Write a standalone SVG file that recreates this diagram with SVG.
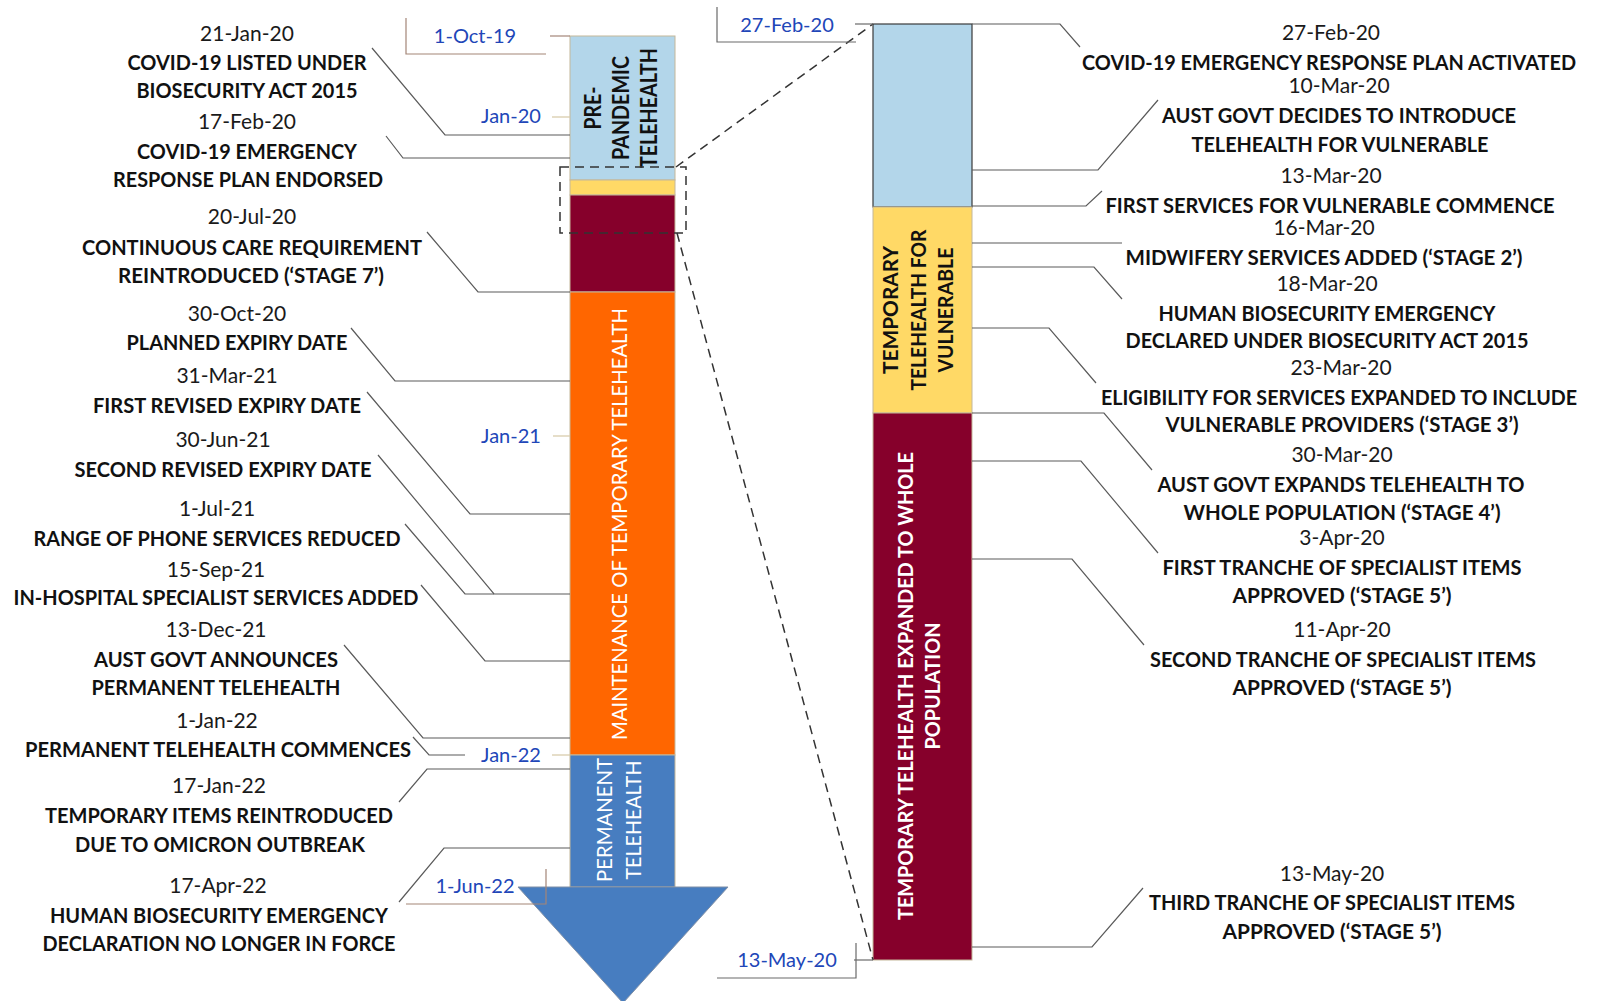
<svg xmlns="http://www.w3.org/2000/svg" width="1597" height="1001" viewBox="0 0 1597 1001">
  <style>
    text { font-family: Lato, "Open Sans", "Liberation Sans", sans-serif; }
    .date { font-size: 21px; fill: #1a1a1a; text-anchor: middle; }
    .ev { font-size: 21px; font-weight: bold; fill: #111; text-anchor: middle; }
    .axis { font-size: 20px; fill: #2146b8; text-anchor: middle; }
    .barlbl { font-size: 22px; font-weight: bold; fill: #111; text-anchor: middle; }
    .barlbl-w { font-size: 21px; fill: #ffffff; text-anchor: middle; }
    .barlbl-wb { font-size: 21px; font-weight: bold; fill: #ffffff; text-anchor: middle; }
    .lead { fill: none; stroke: #5a5a5a; stroke-width: 1.2; }
    .tick { fill: none; stroke: #d8ccac; stroke-width: 1.3; }
    .brk { fill: none; stroke: #a38577; stroke-width: 1.2; }
    .brk2 { fill: none; stroke: #6a6a6a; stroke-width: 1.2; }
    .dash { fill: none; stroke: #333; stroke-width: 1.5; stroke-dasharray: 9 6; }
    .seg { stroke: #c4b79a; stroke-width: 1; }
  </style>

  <!-- main timeline bar -->
  <g id="main-bar">
    <rect id="pre-pandemic" class="seg" x="570" y="36" width="105" height="144" fill="#b3d6ea"/>
    <rect id="vulnerable-small" class="seg" x="570" y="180" width="105" height="15" fill="#ffd966"/>
    <rect id="whole-pop-small" class="seg" x="570" y="195" width="105" height="97" fill="#86002b"/>
    <rect id="maintenance" class="seg" x="570" y="292" width="105" height="463" fill="#ff6600"/>
    <rect id="permanent" class="seg" x="570" y="755" width="105" height="132" fill="#477dc0"/>
    <polygon id="arrow-head" points="518,887 728,887 623,1003" fill="#477dc0" stroke="#7f8fa6" stroke-width="1"/>
    <text class="barlbl" transform="translate(601,108) rotate(-90)" textLength="43" lengthAdjust="spacingAndGlyphs">PRE-</text>
    <text class="barlbl" transform="translate(629,108) rotate(-90)" textLength="104" lengthAdjust="spacingAndGlyphs">PANDEMIC</text>
    <text class="barlbl" transform="translate(657,108) rotate(-90)" textLength="120" lengthAdjust="spacingAndGlyphs">TELEHEALTH</text>
    <text class="barlbl-w" transform="translate(627,524) rotate(-90)" textLength="432" lengthAdjust="spacingAndGlyphs">MAINTENANCE OF TEMPORARY TELEHEALTH</text>
    <text class="barlbl-w" transform="translate(612,820) rotate(-90)" textLength="124" lengthAdjust="spacingAndGlyphs">PERMANENT</text>
    <text class="barlbl-w" transform="translate(641,820) rotate(-90)" textLength="119" lengthAdjust="spacingAndGlyphs">TELEHEALTH</text>
  </g>

  <!-- enlarged detail bar -->
  <g id="detail-bar">
    <rect x="873" y="24" width="99" height="183" fill="#b3d6ea" stroke="#3a3a3a" stroke-width="1.2"/>
    <rect class="seg" x="873" y="207" width="99" height="206" fill="#ffd966"/>
    <rect class="seg" x="873" y="413" width="99" height="547" fill="#86002b"/>
    <text class="barlbl" style="font-size:20px" transform="translate(898,310) rotate(-90)" textLength="128" lengthAdjust="spacingAndGlyphs">TEMPORARY</text>
    <text class="barlbl" style="font-size:20px" transform="translate(926,310) rotate(-90)" textLength="161" lengthAdjust="spacingAndGlyphs">TELEHEALTH FOR</text>
    <text class="barlbl" style="font-size:20px" transform="translate(953,310) rotate(-90)" textLength="125" lengthAdjust="spacingAndGlyphs">VULNERABLE</text>
    <text class="barlbl-wb" transform="translate(913,686) rotate(-90)" textLength="468" lengthAdjust="spacingAndGlyphs">TEMPORARY TELEHEALTH EXPANDED TO WHOLE</text>
    <text class="barlbl-wb" transform="translate(940,686) rotate(-90)" textLength="127" lengthAdjust="spacingAndGlyphs">POPULATION</text>
  </g>

  <!-- connectors -->
  <g id="connectors">
    <!-- zoom box and projection lines -->
    <rect class="dash" x="560" y="167" width="126" height="66"/>
    <line class="dash" x1="676" y1="167" x2="873" y2="24"/>
    <line class="dash" x1="677" y1="233" x2="873" y2="960"/>

    <!-- axis ticks and brackets, main bar -->
    <polyline class="brk" points="406,18 406,54 546,54"/>
    <line class="brk" x1="550" y1="36" x2="570" y2="36"/>
    <line class="tick" x1="552" y1="117" x2="570" y2="117"/>
    <line class="tick" x1="553" y1="436" x2="570" y2="436"/>
    <line class="tick" x1="552" y1="755" x2="570" y2="755"/>
    <polyline class="brk" points="546,869 546,904 406,904"/>

    <!-- axis ticks and brackets, detail bar -->
    <polyline class="brk2" points="717,7 717,42 856,42"/>
    <line class="brk2" x1="855" y1="24" x2="873" y2="24"/>
    <polyline class="brk2" points="856,943 856,978 717,978"/>
    <line class="brk2" x1="854" y1="960" x2="873" y2="960"/>

    <!-- leaders, main bar -->
    <polyline class="lead" points="372,48 445,135 570,135"/>
    <polyline class="lead" points="386,136 403,158 570,158"/>
    <polyline class="lead" points="427,232 478,292 570,292"/>
    <polyline class="lead" points="351,328 395,381 570,381"/>
    <polyline class="lead" points="367,392 470,514 570,514"/>
    <polyline class="lead" points="378,455 494,594 570,594"/>
    <polyline class="lead" points="405,524 465,594 494,594"/>
    <polyline class="lead" points="421,585 485,661 570,661"/>
    <polyline class="lead" points="344,645 423,738 570,738"/>
    <polyline class="lead" points="413,737 429,755 465,755"/>
    <polyline class="lead" points="399,802 427,769 570,769"/>
    <polyline class="lead" points="399,902 444,848 570,848"/>

    <!-- leaders, detail bar -->
    <polyline class="lead" points="972,24 1060,24 1080,47"/>
    <polyline class="lead" points="972,170 1098,170 1158,100"/>
    <polyline class="lead" points="972,206 1086,206 1102,191"/>
    <polyline class="lead" points="972,243 1122,243"/>
    <polyline class="lead" points="972,267 1094,267 1122,299"/>
    <polyline class="lead" points="972,328 1049,328 1096,383"/>
    <polyline class="lead" points="972,413 1104,413 1152,470"/>
    <polyline class="lead" points="972,461 1081,461 1158,553"/>
    <polyline class="lead" points="972,559 1072,559 1144,645"/>
    <polyline class="lead" points="972,947 1092,947 1143,888"/>
  </g>

  <!-- axis labels -->
  <g id="axis-labels">
    <text class="axis" x="475" y="43">1-Oct-19</text>
    <text class="axis" x="511" y="123">Jan-20</text>
    <text class="axis" x="511" y="443">Jan-21</text>
    <text class="axis" x="511" y="762">Jan-22</text>
    <text class="axis" x="475" y="893">1-Jun-22</text>
    <text class="axis" x="787" y="32">27-Feb-20</text>
    <text class="axis" x="787" y="967">13-May-20</text>
  </g>

  <!-- events along the main bar -->
  <g id="ev-21jan20">
    <text class="date" x="247" y="41">21-Jan-20</text>
    <text class="ev" x="247" y="70" textLength="239" lengthAdjust="spacingAndGlyphs">COVID-19 LISTED UNDER</text>
    <text class="ev" x="247" y="98" textLength="221" lengthAdjust="spacingAndGlyphs">BIOSECURITY ACT 2015</text>
  </g>
  <g id="ev-17feb20">
    <text class="date" x="247" y="129">17-Feb-20</text>
    <text class="ev" x="247" y="159" textLength="220" lengthAdjust="spacingAndGlyphs">COVID-19 EMERGENCY</text>
    <text class="ev" x="248" y="187" textLength="270" lengthAdjust="spacingAndGlyphs">RESPONSE PLAN ENDORSED</text>
  </g>
  <g id="ev-20jul20">
    <text class="date" x="252" y="224">20-Jul-20</text>
    <text class="ev" x="252" y="255" textLength="340" lengthAdjust="spacingAndGlyphs">CONTINUOUS CARE REQUIREMENT</text>
    <text class="ev" x="251" y="283" textLength="266" lengthAdjust="spacingAndGlyphs">REINTRODUCED (‘STAGE 7’)</text>
  </g>
  <g id="ev-30oct20">
    <text class="date" x="237" y="321">30-Oct-20</text>
    <text class="ev" x="237" y="350" textLength="221" lengthAdjust="spacingAndGlyphs">PLANNED EXPIRY DATE</text>
  </g>
  <g id="ev-31mar21">
    <text class="date" x="227" y="383">31-Mar-21</text>
    <text class="ev" x="227" y="413" textLength="268" lengthAdjust="spacingAndGlyphs">FIRST REVISED EXPIRY DATE</text>
  </g>
  <g id="ev-30jun21">
    <text class="date" x="223" y="447">30-Jun-21</text>
    <text class="ev" x="223" y="477" textLength="297" lengthAdjust="spacingAndGlyphs">SECOND REVISED EXPIRY DATE</text>
  </g>
  <g id="ev-1jul21">
    <text class="date" x="217" y="516">1-Jul-21</text>
    <text class="ev" x="217" y="546" textLength="367" lengthAdjust="spacingAndGlyphs">RANGE OF PHONE SERVICES REDUCED</text>
  </g>
  <g id="ev-15sep21">
    <text class="date" x="216" y="577">15-Sep-21</text>
    <text class="ev" x="216" y="605" textLength="405" lengthAdjust="spacingAndGlyphs">IN-HOSPITAL SPECIALIST SERVICES ADDED</text>
  </g>
  <g id="ev-13dec21">
    <text class="date" x="216" y="637">13-Dec-21</text>
    <text class="ev" x="216" y="667" textLength="244" lengthAdjust="spacingAndGlyphs">AUST GOVT ANNOUNCES</text>
    <text class="ev" x="216" y="695" textLength="249" lengthAdjust="spacingAndGlyphs">PERMANENT TELEHEALTH</text>
  </g>
  <g id="ev-1jan22">
    <text class="date" x="217" y="728">1-Jan-22</text>
    <text class="ev" x="218" y="757" textLength="386" lengthAdjust="spacingAndGlyphs">PERMANENT TELEHEALTH COMMENCES</text>
  </g>
  <g id="ev-17jan22">
    <text class="date" x="219" y="793">17-Jan-22</text>
    <text class="ev" x="219" y="823" textLength="348" lengthAdjust="spacingAndGlyphs">TEMPORARY ITEMS REINTRODUCED</text>
    <text class="ev" x="220" y="852" textLength="290" lengthAdjust="spacingAndGlyphs">DUE TO OMICRON OUTBREAK</text>
  </g>
  <g id="ev-17apr22">
    <text class="date" x="218" y="893">17-Apr-22</text>
    <text class="ev" x="219" y="923" textLength="338" lengthAdjust="spacingAndGlyphs">HUMAN BIOSECURITY EMERGENCY</text>
    <text class="ev" x="219" y="951" textLength="353" lengthAdjust="spacingAndGlyphs">DECLARATION NO LONGER IN FORCE</text>
  </g>

  <!-- events along the detail bar -->
  <g id="ev-27feb20">
    <text class="date" x="1331" y="40">27-Feb-20</text>
    <text class="ev" transform="translate(1329,70) scale(0.9,1)" x="0" y="0" textLength="549" lengthAdjust="spacingAndGlyphs">COVID-19 EMERGENCY RESPONSE PLAN ACTIVATED</text>
  </g>
  <g id="ev-10mar20">
    <text class="date" x="1339" y="93">10-Mar-20</text>
    <text class="ev" x="1339" y="123" textLength="354" lengthAdjust="spacingAndGlyphs">AUST GOVT DECIDES TO INTRODUCE</text>
    <text class="ev" x="1340" y="152" textLength="297" lengthAdjust="spacingAndGlyphs">TELEHEALTH FOR VULNERABLE</text>
  </g>
  <g id="ev-13mar20">
    <text class="date" x="1331" y="183">13-Mar-20</text>
    <text class="ev" x="1330" y="213" textLength="449" lengthAdjust="spacingAndGlyphs">FIRST SERVICES FOR VULNERABLE COMMENCE</text>
  </g>
  <g id="ev-16mar20">
    <text class="date" x="1324" y="235">16-Mar-20</text>
    <text class="ev" x="1324" y="265" textLength="397" lengthAdjust="spacingAndGlyphs">MIDWIFERY SERVICES ADDED (‘STAGE 2’)</text>
  </g>
  <g id="ev-18mar20">
    <text class="date" x="1327" y="291">18-Mar-20</text>
    <text class="ev" x="1327" y="321" textLength="337" lengthAdjust="spacingAndGlyphs">HUMAN BIOSECURITY EMERGENCY</text>
    <text class="ev" x="1327" y="348" textLength="403" lengthAdjust="spacingAndGlyphs">DECLARED UNDER BIOSECURITY ACT 2015</text>
  </g>
  <g id="ev-23mar20">
    <text class="date" x="1341" y="375">23-Mar-20</text>
    <text class="ev" transform="translate(1339,405) scale(0.9,1)" x="0" y="0" textLength="529" lengthAdjust="spacingAndGlyphs">ELIGIBILITY FOR SERVICES EXPANDED TO INCLUDE</text>
    <text class="ev" x="1342" y="432" textLength="353" lengthAdjust="spacingAndGlyphs">VULNERABLE PROVIDERS (‘STAGE 3’)</text>
  </g>
  <g id="ev-30mar20">
    <text class="date" x="1342" y="462">30-Mar-20</text>
    <text class="ev" x="1341" y="492" textLength="367" lengthAdjust="spacingAndGlyphs">AUST GOVT EXPANDS TELEHEALTH TO</text>
    <text class="ev" x="1342" y="520" textLength="317" lengthAdjust="spacingAndGlyphs">WHOLE POPULATION (‘STAGE 4’)</text>
  </g>
  <g id="ev-3apr20">
    <text class="date" x="1342" y="545">3-Apr-20</text>
    <text class="ev" x="1342" y="575" textLength="359" lengthAdjust="spacingAndGlyphs">FIRST TRANCHE OF SPECIALIST ITEMS</text>
    <text class="ev" x="1342" y="603" textLength="219" lengthAdjust="spacingAndGlyphs">APPROVED (‘STAGE 5’)</text>
  </g>
  <g id="ev-11apr20">
    <text class="date" x="1342" y="637">11-Apr-20</text>
    <text class="ev" x="1343" y="667" textLength="386" lengthAdjust="spacingAndGlyphs">SECOND TRANCHE OF SPECIALIST ITEMS</text>
    <text class="ev" x="1342" y="695" textLength="219" lengthAdjust="spacingAndGlyphs">APPROVED (‘STAGE 5’)</text>
  </g>
  <g id="ev-13may20">
    <text class="date" x="1332" y="881">13-May-20</text>
    <text class="ev" x="1332" y="910" textLength="366" lengthAdjust="spacingAndGlyphs">THIRD TRANCHE OF SPECIALIST ITEMS</text>
    <text class="ev" x="1332" y="939" textLength="219" lengthAdjust="spacingAndGlyphs">APPROVED (‘STAGE 5’)</text>
  </g>
</svg>
